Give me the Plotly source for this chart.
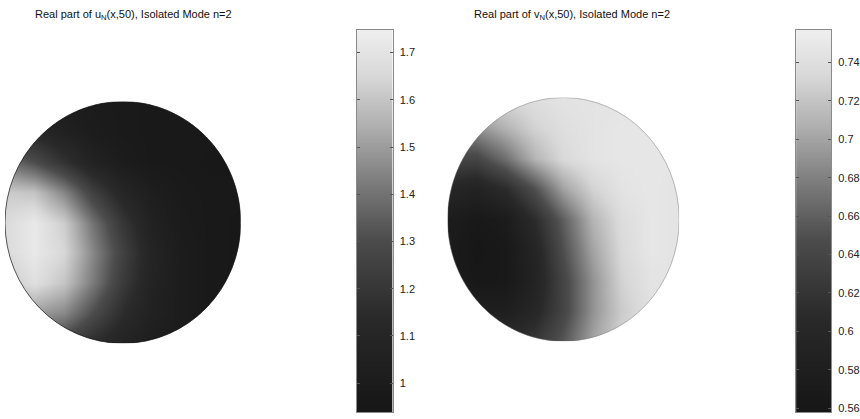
import numpy as np
import plotly.graph_objects as go

# Sample positions on the projected disc (normalised: -1..1 across, -1..1 bottom->top)
GRID_U = [-1.0, -0.75, -0.5, -0.25, 0.0, 0.25, 0.5, 0.75, 1.0]
GRID_V_TOP_DOWN = [1.0, 0.75, 0.5, 0.25, 0.0, -0.25, -0.5, -0.75, -1.0]

# Real part of u_N(x,50): rows listed from top of the disc to bottom
U_ROWS = [
    [1.02, 1.01, 1.00, 0.99, 0.98, 0.97, 0.97, 0.97, 0.97],
    [1.15, 1.12, 1.05, 1.00, 0.98, 0.97, 0.97, 0.97, 0.97],
    [1.40, 1.30, 1.18, 1.06, 1.00, 0.97, 0.97, 0.96, 0.96],
    [1.62, 1.60, 1.45, 1.25, 1.10, 1.02, 0.98, 0.97, 0.97],
    [1.66, 1.72, 1.62, 1.40, 1.20, 1.05, 0.99, 0.97, 0.96],
    [1.66, 1.72, 1.65, 1.45, 1.25, 1.08, 1.00, 0.97, 0.96],
    [1.60, 1.68, 1.60, 1.42, 1.22, 1.07, 1.00, 0.97, 0.96],
    [1.50, 1.50, 1.45, 1.30, 1.15, 1.05, 1.00, 0.97, 0.97],
    [1.30, 1.30, 1.25, 1.15, 1.07, 1.02, 0.98, 0.97, 0.97],
]

# Real part of v_N(x,50): rows listed from top of the disc to bottom
V_ROWS = [
    [0.720, 0.730, 0.735, 0.740, 0.745, 0.745, 0.745, 0.745, 0.745],
    [0.680, 0.690, 0.710, 0.730, 0.740, 0.745, 0.748, 0.748, 0.748],
    [0.640, 0.640, 0.670, 0.710, 0.735, 0.745, 0.748, 0.748, 0.748],
    [0.600, 0.590, 0.610, 0.650, 0.700, 0.730, 0.745, 0.748, 0.745],
    [0.575, 0.565, 0.572, 0.610, 0.660, 0.710, 0.738, 0.748, 0.745],
    [0.570, 0.560, 0.565, 0.595, 0.650, 0.700, 0.735, 0.748, 0.745],
    [0.575, 0.563, 0.565, 0.590, 0.640, 0.690, 0.730, 0.745, 0.745],
    [0.590, 0.580, 0.580, 0.600, 0.640, 0.690, 0.725, 0.742, 0.745],
    [0.610, 0.610, 0.610, 0.625, 0.655, 0.700, 0.730, 0.742, 0.745],
]

U_RANGE = (0.939, 1.748)
V_RANGE = (0.558, 0.757)

U_TICKS = [1.0, 1.1, 1.2, 1.3, 1.4, 1.5, 1.6, 1.7]
U_TICKTEXT = ["1", "1.1", "1.2", "1.3", "1.4", "1.5", "1.6", "1.7"]
V_TICKS = [0.56, 0.58, 0.60, 0.62, 0.64, 0.66, 0.68, 0.70, 0.72, 0.74]
V_TICKTEXT = ["0.56", "0.58", "0.6", "0.62", "0.64", "0.66", "0.68", "0.7", "0.72", "0.74"]

TITLE_U = "Real part of u<sub>N</sub>(x,50), Isolated Mode n=2"
TITLE_V = "Real part of v<sub>N</sub>(x,50), Isolated Mode n=2"

# grey ramp as it appears in print
GRAY = [
    [0.00, "#161616"],
    [0.25, "#2a2a2a"],
    [0.45, "#4c4c4c"],
    [0.60, "#7c7c7c"],
    [0.75, "#b0b0b0"],
    [0.88, "#d8d8d8"],
    [1.00, "#efefef"],
]

W, H = 860, 419
FONT = "Liberation Sans, Arial, sans-serif"


def px_x(a, b):
    return [a / W, b / W]


def px_y(top, bottom):
    return [1 - bottom / H, 1 - top / H]


fig = go.Figure()

grid_v = GRID_V_TOP_DOWN[::-1]

panels = [
    # (rows, range, disc x px, disc y px, bar x px, ticks, ticktext, title, title x px, rim colour)
    (U_ROWS, U_RANGE, (5, 241), (102, 345), (357, 393), U_TICKS, U_TICKTEXT, TITLE_U, 33, "rgba(20,20,20,0.7)"),
    (V_ROWS, V_RANGE, (448, 680), (98, 343), (797, 832), V_TICKS, V_TICKTEXT, TITLE_V, 473, "rgba(110,110,110,0.45)"),
]

theta = np.linspace(0, 2 * np.pi, 361)

layout_axes = {}
shapes = []
annotations = []

for k, (rows, rng, dx, dy, bx, tv, tt, title, tx, rim) in enumerate(panels):
    sa = 2 * k + 1      # disc axes index
    ca = 2 * k + 2      # colour-bar axes index
    sx, sy = f"x{sa}", f"y{sa}"
    cx, cy = f"x{ca}", f"y{ca}"

    # the shaded disc
    fig.add_trace(go.Heatmap(
        x=GRID_U, y=grid_v, z=np.array(rows[::-1]),
        zmin=rng[0], zmax=rng[1], colorscale=GRAY, zsmooth="best",
        showscale=False, hoverinfo="skip", xaxis=sx, yaxis=sy,
    ))

    # the colour bar, drawn as a one-column heatmap over the value range
    levels = np.linspace(rng[0], rng[1], 300)
    fig.add_trace(go.Heatmap(
        x=[0], y=levels, z=levels.reshape(-1, 1),
        zmin=rng[0], zmax=rng[1], colorscale=GRAY,
        showscale=False, hoverinfo="skip", xaxis=cx, yaxis=cy,
    ))

    layout_axes[f"xaxis{sa}"] = dict(domain=px_x(*dx), range=[-1, 1], visible=False, anchor=sy)
    layout_axes[f"yaxis{sa}"] = dict(domain=px_y(*dy), range=[-1, 1], visible=False, anchor=sx)

    layout_axes[f"xaxis{ca}"] = dict(
        domain=px_x(*bx), range=[-0.5, 0.5], anchor=cy,
        showticklabels=False, ticks="", showgrid=False, zeroline=False,
        showline=True, mirror=True, linecolor="#8a8a8a", linewidth=1,
    )
    layout_axes[f"yaxis{ca}"] = dict(
        domain=px_y(30, 414), range=list(rng), anchor=cx, side="right",
        tickvals=tv, ticktext=tt, ticks="inside", ticklen=3, tickwidth=1,
        tickcolor="#555555", mirror="ticks", showline=True, linecolor="#8a8a8a",
        linewidth=1, showgrid=False, zeroline=False, ticklabelstandoff=4,
        tickfont=dict(family=FONT, size=11, color="#222222"),
    )

    # white surround (in paper units, so it is not clipped with the subplot)
    # trimming the shading to a disc
    pcx = (dx[0] + dx[1]) / 2 / W
    prx = (dx[1] - dx[0]) / 2 / W
    pcy = 1 - (dy[0] + dy[1]) / 2 / H
    pry = (dy[1] - dy[0]) / 2 / H
    x_lo, x_hi = max(dx[0] - 8, 0) / W, (dx[1] + 8) / W
    y_lo, y_hi = 1 - (dy[1] + 8) / H, 1 - (dy[0] - 8) / H
    ring = " ".join(
        ("M" if i == 0 else "L") + f"{pcx + prx * np.cos(t):.6f},{pcy + pry * np.sin(t):.6f}"
        for i, t in enumerate(theta)
    ) + " Z"
    mask = f"M{x_lo},{y_lo} L{x_hi},{y_lo} L{x_hi},{y_hi} L{x_lo},{y_hi} Z " + ring
    shapes.append(dict(type="path", path=mask, xref="paper", yref="paper",
                       fillcolor="white", fillrule="evenodd", line=dict(width=0), layer="above"))
    shapes.append(dict(type="circle", x0=-1, x1=1, y0=-1, y1=1, xref=sx, yref=sy,
                       line=dict(color=rim, width=1), layer="above"))

    annotations.append(dict(
        text=title, x=tx / W, y=1 - 15 / H, xref="paper", yref="paper",
        xanchor="left", yanchor="middle", showarrow=False,
        font=dict(family=FONT, size=11, color="#111111"),
    ))

fig.update_layout(
    width=W, height=H, margin=dict(l=0, r=0, t=0, b=0),
    paper_bgcolor="white", plot_bgcolor="white",
    showlegend=False, shapes=shapes, annotations=annotations,
    **layout_axes,
)

fig.write_html("out.html")
